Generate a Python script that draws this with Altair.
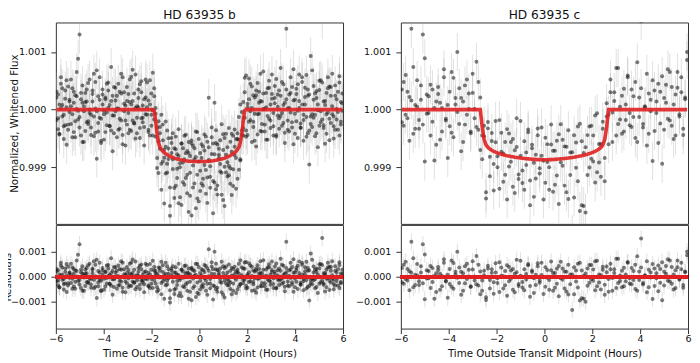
import altair as alt
import pandas as pd

# ---------------- data: HD 63935 b ----------------
time_b = [
    -5.97, -5.91, -5.85, -5.79, -5.73, -5.67, -5.61, -5.55, -5.49, -5.43,
    -5.37, -5.31, -5.25, -5.19, -5.13, -5.07, -5.01, -4.95, -4.89, -4.83,
    -4.77, -4.71, -4.65, -4.59, -4.53, -4.47, -4.41, -4.35, -4.29, -4.23,
    -4.17, -4.11, -4.05, -3.99, -3.93, -3.87, -3.81, -3.75, -3.69, -3.63,
    -3.57, -3.51, -3.45, -3.39, -3.33, -3.27, -3.21, -3.15, -3.09, -3.03,
    -2.97, -2.91, -2.85, -2.79, -2.73, -2.67, -2.61, -2.55, -2.49, -2.43,
    -2.37, -2.31, -2.25, -2.19, -2.13, -2.07, -2.01, -1.95, -1.89, -1.83,
    -1.77, -1.71, -1.65, -1.59, -1.53, -1.47, -1.41, -1.35, -1.29, -1.23,
    -1.17, -1.11, -1.05, -0.99, -0.93, -0.87, -0.81, -0.75, -0.69, -0.63,
    -0.57, -0.51, -0.45, -0.39, -0.33, -0.27, -0.21, -0.15, -0.09, -0.03,
    0.03, 0.09, 0.15, 0.21, 0.27, 0.33, 0.39, 0.45, 0.51, 0.57,
    0.63, 0.69, 0.75, 0.81, 0.87, 0.93, 0.99, 1.05, 1.11, 1.17,
    1.23, 1.29, 1.35, 1.41, 1.47, 1.53, 1.59, 1.65, 1.71, 1.77,
    1.83, 1.89, 1.95, 2.01, 2.07, 2.13, 2.19, 2.25, 2.31, 2.37,
    2.43, 2.49, 2.55, 2.61, 2.67, 2.73, 2.79, 2.85, 2.91, 2.97,
    3.03, 3.09, 3.15, 3.21, 3.27, 3.33, 3.39, 3.45, 3.51, 3.57,
    3.63, 3.69, 3.75, 3.81, 3.87, 3.93, 3.99, 4.05, 4.11, 4.17,
    4.23, 4.29, 4.35, 4.41, 4.47, 4.53, 4.59, 4.65, 4.71, 4.77,
    4.83, 4.89, 4.95, 5.01, 5.07, 5.13, 5.19, 5.25, 5.31, 5.37,
    5.43, 5.49, 5.55, 5.61, 5.67, 5.73, 5.79, 5.85, 5.91, 5.97,
]
# transit model, ppm below 1.0
model_b_ppm = [
    0, 0, 0, 0, 0, 0, 0, 0, 0, 0,
    0, 0, 0, 0, 0, 0, 0, 0, 0, 0,
    0, 0, 0, 0, 0, 0, 0, 0, 0, 0,
    0, 0, 0, 0, 0, 0, 0, 0, 0, 0,
    0, 0, 0, 0, 0, 0, 0, 0, 0, 0,
    0, 0, 0, 0, 0, 0, 0, 0, 0, 0,
    0, 0, 0, 0, 0, 0, 0, 0, -20, -200,
    -420, -570, -650, -690, -720, -745, -765, -780, -795, -808,
    -820, -830, -840, -848, -855, -862, -868, -873, -878, -882,
    -886, -889, -892, -894, -896, -898, -899, -900, -900, -900,
    -900, -900, -900, -899, -898, -896, -894, -892, -889, -886,
    -882, -878, -873, -868, -862, -855, -848, -840, -830, -820,
    -808, -795, -780, -765, -745, -720, -690, -650, -570, -420,
    -200, -20, 0, 0, 0, 0, 0, 0, 0, 0,
    0, 0, 0, 0, 0, 0, 0, 0, 0, 0,
    0, 0, 0, 0, 0, 0, 0, 0, 0, 0,
    0, 0, 0, 0, 0, 0, 0, 0, 0, 0,
    0, 0, 0, 0, 0, 0, 0, 0, 0, 0,
    0, 0, 0, 0, 0, 0, 0, 0, 0, 0,
    0, 0, 0, 0, 0, 0, 0, 0, 0, 0,
]
# residuals (ppm), three observing sectors
resid_b1_ppm = [
    210, -340, 90, 450, -120, -510, 330, 40, -260, 170,
    520, -80, -390, 250, 10, -170, 1300, -450, 120, -30,
    290, -220, 460, -60, -310, 140, 620, -400, -850, 230,
    -140, -580, 350, -20, 180, -270, 470, 80, -360, 240,
    -100, 380, -480, 20, 310, -190, 560, -30, -620, 150,
    270, -350, 90, 690, -240, 30, -410, 200, 440, -150,
    70, -300, 520, -90, 160, -450, 280, -10, 390, -270,
    110, -530, 240, 600, -180, 50, -340, 420, -60, -1030,
    330, -200, 170, -470, 80, -760, -130, 290, -380, 20,
    450, -240, 140, -600, 360, -70, 230, -810, 510, 0,
    -160, 300, -420, 190, 430, -280, 1100, -90, 410, -350,
    1000, -500, 270, 80, -210, 600, -720, 350, -260, 170,
    -330, 240, 50, -560, 400, -120, 180, -390, 660, -20,
    -250, 320, -470, 100, 540, -180, 30, -300, 210, -640,
    460, -70, 150, -380, 280, 10, -520, 370, -160, 90,
    610, -290, 200, -440, 50, 330, -110, 480, -230, 120,
    1400, -350, 260, -50, 390, -600, 170, -200, 440, 30,
    -310, 560, -90, 220, -470, 350, -950, -250, 680, -140,
    280, -410, 90, 500, -220, 1550, -320, 150, -80, 370,
    -530, 240, 60, -290, 420, -170, 310, -450, 130, -20,
]
resid_b2_ppm = [
    -180, 260, -430, 30, 370, -90, -270, 510, -350, 140,
    60, -480, 310, -200, 650, -20, -310, 180, 420, -560,
    130, 350, -250, 0, -440, 270, -120, 480, -30, -380,
    560, -160, 90, -520, 210, -50, 330, -290, 740, -100,
    -410, 160, 20, 450, -330, 280, -600, 100, -190, 390,
    -60, 520, -370, 150, -230, 610, -140, 40, -490, 300,
    -220, 180, -80, 470, -390, 90, -280, 640, -150, 230,
    -420, 20, 350, -700, 190, -90, 560, -310, 120, -860,
    240, -30, -520, 380, -170, 60, -650, 280, -40, 430,
    -300, 170, -880, 90, 310, -450, 40, 520, -230, -690,
    150, -380, 260, -60, -560, 340, 20, -270, 580, -910,
    110, 300, -440, 190, -80, -620, 420, -150, 50, -340,
    490, -220, -700, 310, -40, 210, -510, 130, -290, 380,
    -120, 570, -360, 40, -210, 450, -560, 250, -70, 330,
    -430, 120, 620, -250, 10, -380, 290, -110, 500, -320,
    190, -60, 410, -470, 260, -150, 720, -280, 80, -400,
    350, -190, 30, 560, -310, 160, -420, 270, -20, 610,
    -240, 90, -540, 380, -130, 240, -360, 930, -80, 170,
    -460, 320, -10, -280, 510, -170, 140, -590, 290, -50,
    400, -230, 620, -120, -350, 180, -40, 470, -260, 110,
]
resid_b3_ppm = [
    310, -150, -420, 560, 80, -290, 190, -610, 400, -40,
    -250, 370, 120, -480, 230, 880, -130, 290, -560, 60,
    -370, 140, -200, 520, -90, 330, -460, 20, 680, -230,
    170, -540, 260, -80, -390, 450, 30, -280, 150, -720,
    390, -30, 240, -350, -160, 620, -440, 300, 70, -260,
    -410, 130, 570, -190, 280, -500, 60, 350, -320, 490,
    -140, -620, 210, 40, -350, 510, -90, -450, 250, 130,
    -590, 370, -30, -250, 460, -880, 120, -160, 300, -540,
    70, 420, -690, 160, -330, 520, -60, -780, 210, -420,
    130, -560, 330, -200, -940, 270, -380, 80, -640, 390,
    -510, 60, -300, 470, -150, -720, 240, -460, 120, 300,
    -380, 520, -600, 20, 330, -240, 150, -830, 410, -90,
    -170, -490, 360, -270, 100, -650, 280, 520, -310, 60,
    330, -120, 590, -440, 180, -30, 400, -210, -540, 250,
    -80, 310, -370, 140, 660, -260, 40, -520, 380, -190,
    270, -450, 110, 530, -100, -330, 240, -60, 440, -580,
    180, 20, -380, 290, -220, 700, -70, 360, -490, 150,
    -320, 480, -180, 90, 600, -410, 260, -120, -300, 410,
    -90, 200, -650, 340, -30, 470, -270, 80, -420, 560,
    -160, 390, -80, -500, 240, 10, -350, 580, -210, 280,
]
err_b = 0.00033

# ---------------- data: HD 63935 c ----------------
time_c = [
    -5.96, -5.88, -5.80, -5.72, -5.64, -5.56, -5.48, -5.40, -5.32, -5.24,
    -5.16, -5.08, -5.00, -4.92, -4.84, -4.76, -4.68, -4.60, -4.52, -4.44,
    -4.36, -4.28, -4.20, -4.12, -4.04, -3.96, -3.88, -3.80, -3.72, -3.64,
    -3.56, -3.48, -3.40, -3.32, -3.24, -3.16, -3.08, -3.00, -2.92, -2.84,
    -2.76, -2.68, -2.60, -2.52, -2.44, -2.36, -2.28, -2.20, -2.12, -2.04,
    -1.96, -1.88, -1.80, -1.72, -1.64, -1.56, -1.48, -1.40, -1.32, -1.24,
    -1.16, -1.08, -1.00, -0.92, -0.84, -0.76, -0.68, -0.60, -0.52, -0.44,
    -0.36, -0.28, -0.20, -0.12, -0.04, 0.04, 0.12, 0.20, 0.28, 0.36,
    0.44, 0.52, 0.60, 0.68, 0.76, 0.84, 0.92, 1.00, 1.08, 1.16,
    1.24, 1.32, 1.40, 1.48, 1.56, 1.64, 1.72, 1.80, 1.88, 1.96,
    2.04, 2.12, 2.20, 2.28, 2.36, 2.44, 2.52, 2.60, 2.68, 2.76,
    2.84, 2.92, 3.00, 3.08, 3.16, 3.24, 3.32, 3.40, 3.48, 3.56,
    3.64, 3.72, 3.80, 3.88, 3.96, 4.04, 4.12, 4.20, 4.28, 4.36,
    4.44, 4.52, 4.60, 4.68, 4.76, 4.84, 4.92, 5.00, 5.08, 5.16,
    5.24, 5.32, 5.40, 5.48, 5.56, 5.64, 5.72, 5.80, 5.88, 5.96,
]
model_c_ppm = [
    0, 0, 0, 0, 0, 0, 0, 0, 0, 0,
    0, 0, 0, 0, 0, 0, 0, 0, 0, 0,
    0, 0, 0, 0, 0, 0, 0, 0, 0, 0,
    0, 0, 0, 0, 0, 0, 0, 0, 0, 0,
    0, 0, -300, -520, -610, -655, -685, -705, -722, -737,
    -750, -762, -772, -781, -790, -798, -805, -812, -818, -824,
    -829, -834, -839, -843, -847, -851, -854, -857, -860, -862,
    -864, -866, -867, -868, -868, -868, -868, -867, -866, -864,
    -862, -860, -857, -854, -851, -847, -843, -839, -834, -829,
    -824, -818, -812, -805, -798, -790, -781, -772, -762, -750,
    -737, -722, -705, -685, -655, -610, -520, -300, 0, 0,
    0, 0, 0, 0, 0, 0, 0, 0, 0, 0,
    0, 0, 0, 0, 0, 0, 0, 0, 0, 0,
    0, 0, 0, 0, 0, 0, 0, 0, 0, 0,
    0, 0, 0, 0, 0, 0, 0, 0, 0, 0,
]
resid_c1_ppm = [
    350, -280, 600, -150, 220, 1400, -420, 80, 510, -330,
    170, 1300, -900, 260, -60, 430, -210, -880, 140, 390,
    -520, 30, 700, -160, -840, 310, -400, 550, 90, 1000,
    -250, 200, -560, 420, -90, 280, -380, 620, 10, -300,
    480, -700, -150, 240, -930, 330, -470, 160, -220, 540,
    -60, -610, 370, 20, -340, 460, -180, 250, -520, 120,
    680, -290, 40, -430, 300, -110, 510, -370, 190, -650,
    80, 420, -240, 560, -20, -400, 270, -130, 610, -560,
    150, -280, 430, -60, 330, -470, 200, -710, 90, -1330,
    380, -190, 520, -950, 250, -880, 130, -360, 470, -100,
    290, -540, 640, -230, 60, 400, -320, 180, -600, 520,
    -50, 300, -450, 720, -170, 240, -380, 90, 560, -270,
    350, -130, 480, -560, 210, 1530, -310, 40, 620, -420,
    170, -890, 330, -60, 450, -240, 580, -350, 120, 700,
    -190, 390, -510, 260, 650, -80, 300, -440, 210, 1000,
]
resid_c2_ppm = [
    -220, 480, -90, 310, -540, 160, 740, -330, 50, -180,
    420, -260, 890, -70, 230, -450, 350, 30, -610, 270,
    120, -380, 560, -190, 80, -290, 650, -480, 200, -40,
    370, -720, 140, -260, 520, 10, -410, 290, -150, 830,
    -350, 210, -560, 60, -820, 440, -130, 300, -680, 170,
    -250, 580, 40, -470, 230, -760, 390, -90, 310, -620,
    180, -370, 640, -210, -540, 110, 460, -800, 250, -60,
    -330, 540, -150, 70, -690, 380, -40, -520, 260, 150,
    -440, 320, -780, 600, -120, 210, -590, 480, -300, 90,
    -700, 250, -430, 560, -860, 40, -1000, 330, -240, 470,
    -160, 620, -380, 90, -510, 280, -720, 410, -90, 300,
    -560, 150, 720, -250, 50, -420, 360, -180, 590, -60,
    -300, 230, -490, 820, -130, 370, -250, 60, -620, 280,
    -30, 510, -370, 140, -580, 310, -940, 200, 430, -160,
    650, -280, 90, -450, 380, -120, 560, -330, 180, 860,
]
err_c = 0.00033

planet_names = ["HD 63935 b", "HD 63935 c"]
x_ticks = [-6, -4, -2, 0, 2, 4, 6]
flux_ticks = [0.999, 1.000, 1.001]
resid_ticks = [-0.001, 0.000, 0.001]
flux_domain = [0.99802, 1.00151]
resid_domain = [-0.00208, 0.00208]

PT_COLOR = "#111111"
ERR_COLOR = "#999999"
RED = "#e02020"
FONT = "DejaVu Sans"


def make_points(t, model, resid_sets, err):
    rows = []
    for resid in resid_sets:
        assert len(t) == len(model) == len(resid), (len(t), len(model), len(resid))
        for ti, m, r in zip(t, model, resid):
            f = 1.0 + (m + r) * 1e-6
            rr = r * 1e-6
            rows.append({"t": ti, "flux": f, "resid": rr,
                         "flo": f - err, "fhi": f + err,
                         "rlo": rr - err, "rhi": rr + err})
    return pd.DataFrame(rows)


def make_model(t, model):
    return pd.DataFrame({"t": t, "model": [1.0 + m * 1e-6 for m in model]})


def column(name, pts, mdl, left):
    xs = alt.Scale(domain=[-6, 6], nice=False, zero=False)
    x_top = alt.X("t:Q", scale=xs, axis=None)
    x_bot = alt.X(
        "t:Q", scale=xs,
        axis=alt.Axis(values=x_ticks, format="d", labelPadding=0,
                      titlePadding=5,
                      title="Time Outside Transit Midpoint (Hours)"),
    )
    fs = alt.Scale(domain=flux_domain, nice=False, zero=False)
    rs = alt.Scale(domain=resid_domain, nice=False, zero=False)
    f_axis = alt.Axis(values=flux_ticks, format=".3f", titlePadding=-1,
                      title="Normalized, Whitened Flux" if left else "")
    r_axis = alt.Axis(values=resid_ticks, format=".3f", titlePadding=-2,
                      title="Residuals" if left else "")

    base = alt.Chart(pts)
    top = alt.layer(
        base.mark_rule(color=ERR_COLOR, opacity=0.3, strokeWidth=1, clip=True).encode(
            x=x_top, y=alt.Y("flo:Q", scale=fs, axis=f_axis), y2="fhi:Q"),
        base.mark_circle(color=PT_COLOR, opacity=0.55, size=16, clip=True).encode(
            x=x_top, y=alt.Y("flux:Q", scale=fs, axis=f_axis)),
        alt.Chart(mdl).mark_line(color=RED, opacity=0.9, strokeWidth=3.6, clip=True).encode(
            x=x_top, y=alt.Y("model:Q", scale=fs, axis=f_axis)),
    ).properties(width=288, height=202, title=name)

    bot = alt.layer(
        base.mark_rule(color=ERR_COLOR, opacity=0.3, strokeWidth=1, clip=True).encode(
            x=x_bot, y=alt.Y("rlo:Q", scale=rs, axis=r_axis), y2="rhi:Q"),
        base.mark_circle(color=PT_COLOR, opacity=0.55, size=16, clip=True).encode(
            x=x_bot, y=alt.Y("resid:Q", scale=rs, axis=r_axis)),
        base.mark_rule(color=RED, opacity=0.9, strokeWidth=3.6).encode(
            y=alt.datum(0)),
    ).properties(width=288, height=104)

    return alt.vconcat(top, bot, spacing=-4)


pts_b = make_points(time_b, model_b_ppm,
                    [resid_b1_ppm, resid_b2_ppm, resid_b3_ppm], err_b)
pts_c = make_points(time_c, model_c_ppm, [resid_c1_ppm, resid_c2_ppm], err_c)
mdl_b = make_model(time_b, model_b_ppm)
mdl_c = make_model(time_c, model_c_ppm)

chart = alt.hconcat(
    column(planet_names[0], pts_b, mdl_b, True),
    column(planet_names[1], pts_c, mdl_c, False),
    spacing=7,
).properties(
    padding={"left": -7, "top": 0, "right": 0, "bottom": 0}
).configure_view(
    stroke="#333333", strokeWidth=1
).configure_axis(
    grid=False, domain=False, tickColor="#333333", tickSize=5, tickWidth=1,
    labelFont=FONT, labelFontSize=9.6, labelColor="#111111",
    labelPadding=5, labelFlush=False,
    titleFont=FONT, titleFontSize=10.3, titleFontWeight="normal",
    titleColor="#111111",
).configure_title(
    font=FONT, fontSize=12.2, fontWeight="normal", color="#111111",
    offset=1,
)

chart.save("out.html", embed_options={"renderer": "svg", "actions": False})
